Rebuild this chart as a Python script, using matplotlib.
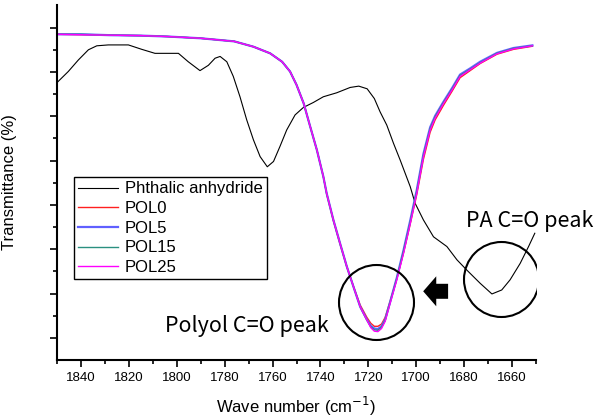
import numpy as np
import matplotlib.pyplot as plt

""" Spectrum data read from the figure (wave number in cm-1, transmittance a.u.) """
pa_x = [1850, 1845.3, 1841.1, 1836.9, 1833.4, 1828.6, 1820.2, 1814.6, 1809.1,
        1799.3, 1795.2, 1790.3, 1786.8, 1784.0, 1781.9, 1779.1, 1776.4, 1773.6,
        1770.8, 1768.0, 1765.2, 1762.2, 1759.6, 1756.9, 1754.1, 1750.6, 1747.1,
        1743.0, 1738.8, 1733.2, 1727.6, 1724.0, 1720.5, 1717.5, 1715.1, 1712.3,
        1709.5, 1706.7, 1704.6, 1702.5, 1700.5, 1697.0, 1692.8, 1687.2, 1683.0,
        1678.9, 1673.3, 1668.4, 1664.3, 1660.8, 1656.6, 1653.1, 1650.5]
pa_y = [57.6, 60.1, 62.7, 65.0, 65.9, 66.1, 66.1, 65.1, 64.2,
        64.2, 62.3, 60.3, 61.5, 63.1, 63.5, 62.3, 59.0, 54.4,
        49.2, 44.7, 40.9, 38.6, 39.8, 43.2, 46.9, 50.3, 52.0,
        53.1, 54.4, 55.3, 56.5, 56.8, 56.2, 54.0, 51.0, 48.0,
        43.9, 40.1, 37.1, 34.1, 30.4, 26.6, 22.8, 20.6, 17.6,
        15.3, 12.3, 9.9, 10.8, 13.1, 16.8, 20.6, 23.6]

pol_x = [1850, 1840, 1828, 1815, 1804, 1790, 1776, 1768, 1761, 1756, 1752.7,
         1750, 1747, 1744.3, 1741.5, 1738.8, 1737.4, 1734.6, 1731.8, 1729.0,
         1726.2, 1723.4, 1720.6, 1719.0, 1717.5, 1716.0, 1714.5, 1713.0, 1710.9,
         1708.1, 1705.3, 1702.5, 1699.8, 1697.0, 1694.2, 1692.1, 1688.6, 1685.1,
         1681.7, 1677.5, 1673.3, 1666.3, 1659.4, 1651.5]
pol0_y = [68.5, 68.4, 68.3, 68.2, 68.0, 67.6, 66.9, 65.7, 64.2, 62.3, 60.1,
          57.1, 52.9, 47.7, 42.4, 36.4, 32.4, 26.4, 21.1, 16.0,
          11.6, 7.4, 4.6, 3.3, 2.6, 2.6, 3.1, 4.6, 8.3,
          13.4, 19.2, 25.7, 32.3, 40.3, 46.4, 49.2, 52.5, 55.6,
          58.7, 60.3, 61.9, 64.0, 65.1, 65.8]
pol5_y = [68.5, 68.5, 68.3, 68.2, 68.0, 67.6, 66.9, 65.7, 64.2, 62.3, 60.1,
          57.1, 52.9, 47.7, 42.4, 36.4, 32.6, 26.6, 21.3, 16.1,
          11.5, 7.0, 4.1, 2.7, 2.1, 2.0, 2.6, 4.1, 8.1,
          13.6, 19.8, 26.5, 33.3, 41.5, 47.5, 50.1, 53.3, 56.3,
          59.4, 60.8, 62.3, 64.3, 65.4, 66.0]
pol15_y = [68.5, 68.5, 68.3, 68.2, 68.0, 67.6, 66.9, 65.7, 64.2, 62.3, 60.1,
           57.1, 52.9, 47.7, 42.4, 36.4, 32.6, 26.6, 21.3, 16.1,
           11.5, 7.0, 4.0, 2.5, 1.8, 1.7, 2.4, 3.9, 8.0,
           13.4, 19.6, 26.2, 33.0, 41.2, 47.2, 49.9, 53.1, 56.1,
           59.2, 60.6, 62.1, 64.2, 65.3, 65.9]
pol25_y = [68.5, 68.4, 68.3, 68.2, 68.0, 67.6, 66.9, 65.7, 64.2, 62.3, 60.1,
           57.1, 52.9, 47.7, 42.4, 36.4, 32.6, 26.6, 21.3, 16.1,
           11.5, 7.0, 4.0, 2.3, 1.5, 1.4, 2.1, 3.7, 7.8,
           13.1, 19.1, 25.8, 32.6, 40.9, 46.9, 49.6, 52.9, 55.9,
           59.0, 60.5, 62.0, 64.1, 65.2, 65.9]

labels = ['Phthalic anhydride', 'POL0', 'POL5', 'POL15', 'POL25']
colors = ['black', '#ff2020', '#6060ff', '#2a9080', '#ff00ff']

""" Figure """
plt.rcParams['font.family'] = ['Liberation Sans', 'DejaVu Sans']
fig = plt.figure(figsize=(5.99, 4.2), dpi=100)
ax = fig.add_axes([0.0952, 0.1429, 0.7996, 0.8451])

ax.plot(pa_x, pa_y, color=colors[0], lw=0.8, label=labels[0])
ax.plot(pol_x, pol0_y, color=colors[1], lw=1.0, label=labels[1])
ax.plot(pol_x, pol5_y, color=colors[2], lw=1.6, label=labels[2])
ax.plot(pol_x, pol15_y, color=colors[3], lw=1.0, label=labels[3])
ax.plot(pol_x, pol25_y, color=colors[4], lw=1.0, label=labels[4])

ax.set_xlim(1850, 1650)
ax.set_ylim(-5, 75.1)
ax.set_xticks(np.arange(1840, 1650, -20))
ax.set_xticks(np.arange(1850, 1649, -10), minor=True)
ax.set_yticks(np.arange(0, 71, 10))
ax.set_yticks(np.arange(5, 66, 10), minor=True)
ax.set_yticklabels([])
ax.tick_params(which='major', direction='out', length=5, width=1.2, labelsize=9.5)
ax.tick_params(which='minor', direction='out', length=3, width=1.2)
for side in ['top', 'right']:
    ax.spines[side].set_visible(False)
for side in ['left', 'bottom']:
    ax.spines[side].set_linewidth(1.5)

ax.set_xlabel('Wave number (cm$^{-1}$)', fontsize=12, labelpad=8)
ax.set_ylabel('Transmittance (%)', fontsize=12, labelpad=20)

leg = ax.legend(loc='upper left', bbox_to_anchor=(0.035, 0.515), borderaxespad=0,
                fontsize=12, fancybox=False, edgecolor='black', framealpha=1,
                labelspacing=0.28, handlelength=2.4, handletextpad=0.4,
                borderpad=0.25)
leg.get_frame().set_linewidth(1.0)

# Annotations: circles, arrow and labels
ax.plot(1716.7, 8.1, 'o', ms=54, mfc='none', mec='black', mew=1.5)
ax.plot(1664.5, 13.3, 'o', ms=54, mfc='none', mec='black', mew=1.5)
ax.annotate('', xy=(1697.1, 10.5), xytext=(1686.7, 10.5),
            arrowprops=dict(arrowstyle='simple,head_length=0.47,head_width=1.08,tail_width=0.54',
                            fc='black', ec='black', lw=0, mutation_scale=20,
                            shrinkA=0, shrinkB=0))
ax.text(1804.9, 2.7, 'Polyol C=O peak', fontsize=15.5, family=['Noto Sans CJK KR', 'DejaVu Sans'],
        ha='left', va='center')
ax.text(1679.2, 26.3, 'PA C=O peak', fontsize=15.5, family=['Noto Sans CJK KR', 'DejaVu Sans'],
        ha='left', va='center', clip_on=False)

fig.savefig('out.png', dpi=100)
